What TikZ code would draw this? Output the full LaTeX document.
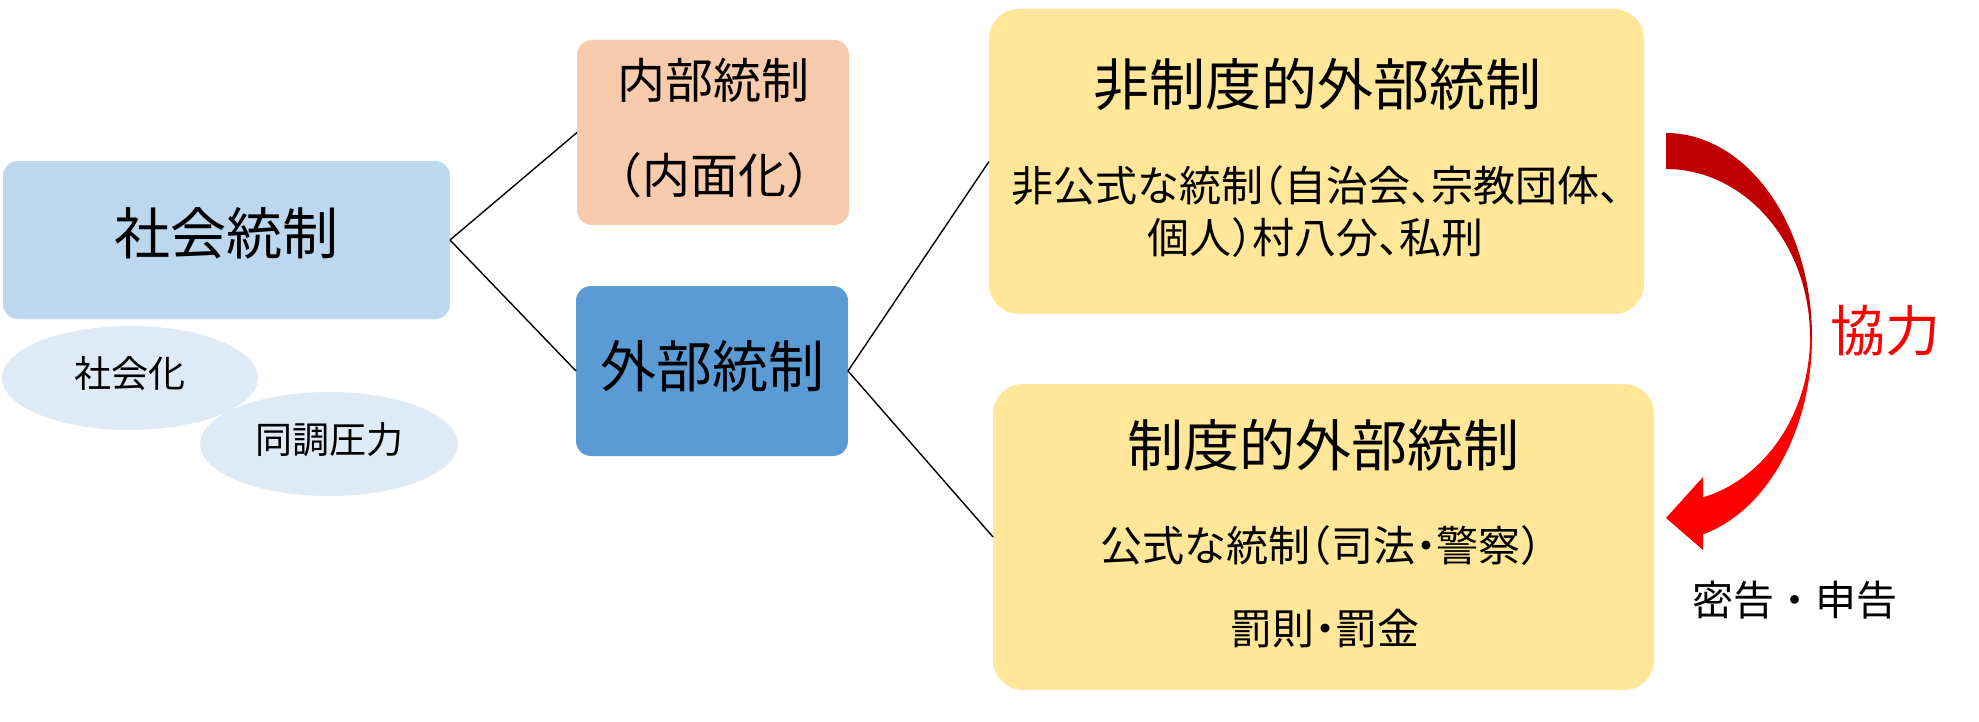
\documentclass[tikz,border=0pt]{standalone}
\usepackage{fontspec}
\usetikzlibrary{shapes.geometric}
\newfontfamily\jp[RawFeature=+halt]{Noto Sans CJK JP}
\newfontfamily\jpfull{Noto Sans CJK JP}
\definecolor{socblue}{HTML}{BDD7EE}
\definecolor{ellblue}{HTML}{DEEBF7}
\definecolor{naipeach}{HTML}{F8CBAD}
\definecolor{gaiblue}{HTML}{5B9BD5}
\definecolor{boxyellow}{HTML}{FFE699}
\definecolor{arrdark}{HTML}{C00000}
\definecolor{arrred}{HTML}{FF0000}
\begin{document}
\begin{tikzpicture}[x=0.5pt,y=-0.5pt,
  box/.style={rectangle,draw=none,inner sep=0pt,outer sep=0pt,rounded corners=7.5pt},
  bigbox/.style={rectangle,draw=none,inner sep=0pt,outer sep=0pt,rounded corners=15pt,fill=boxyellow},
  ell/.style={ellipse,draw=none,fill=ellblue,inner sep=0pt,outer sep=0pt},
  txt/.style={inner sep=0pt,outer sep=0pt,anchor=center,font=\jp},
  conn/.style={draw=black,line width=0.7pt}]
\useasboundingbox (0,0) rectangle (1979,722);
\fill[white] (0,0) rectangle (1979,722);

% boxes
\node[box,fill=socblue,minimum width=223.5pt,minimum height=79pt] (soc) at (226.5,240) {};
\node[box,fill=naipeach,minimum width=136pt,minimum height=92.5pt] (nai) at (713,132.5) {};
\node[box,fill=gaiblue,minimum width=136pt,minimum height=85pt] (gai) at (712,371) {};
\node[bigbox,minimum width=327.5pt,minimum height=152.5pt] (hsei) at (1316.5,161.5) {};
\node[bigbox,minimum width=330.5pt,minimum height=153pt] (sei) at (1323.5,537) {};

% ellipses
\node[ell,minimum width=128pt,minimum height=52pt] (e1) at (130,378) {};
\node[ell,minimum width=129pt,minimum height=52pt] (e2) at (329,444) {};

% connectors
\draw[conn] (soc.east) -- (nai.west);
\draw[conn] (soc.east) -- (gai.west);
\draw[conn] (gai.east) -- (hsei.west);
\draw[conn] (gai.east) -- (sei.west);

% texts
\node[txt,font=\jp\fontsize{28pt}{28pt}\selectfont] (tsoc) at (226,233) {社会統制};
\node[txt,font=\jp\fontsize{24pt}{24pt}\selectfont] (tnai1) at (713,80) {内部統制};
\node[txt,font=\jp\fontsize{24pt}{24pt}\selectfont] (tnai2) at (714,175) {（内面化）};
\node[txt,font=\jp\fontsize{28pt}{28pt}\selectfont] (tgai) at (712,366) {外部統制};
\node[txt,font=\jp\fontsize{18.5pt}{18.5pt}\selectfont] (te1) at (130,373) {社会化};
\node[txt,font=\jp\fontsize{18.5pt}{18.5pt}\selectfont] (te2) at (329,440) {同調圧力};
\node[txt,font=\jp\fontsize{28pt}{28pt}\selectfont] (thsei) at (1317,84) {非制度的外部統制};
\node[txt,font=\jp\fontsize{21pt}{21pt}\selectfont] (thsei1) at (1316,185.5) {非公式な統制（自治会、宗教団体、};
\node[txt,font=\jp\fontsize{21pt}{21pt}\selectfont] (thsei2) at (1315,238) {個人）村八分、私刑};
\node[txt,font=\jp\fontsize{28pt}{28pt}\selectfont] (tsei) at (1323,445) {制度的外部統制};
\node[txt,font=\jp\fontsize{21pt}{21pt}\selectfont] (tsei1) at (1321,546) {公式な統制（司法・警察）};
\node[txt,font=\jp\fontsize{21pt}{21pt}\selectfont] (tsei2) at (1325,629) {罰則・罰金};

% curved arrow
\fill[arrdark] plot[domain=-90:0,samples=60] ({1666+146*cos(\x)},{337+204*sin(\x)})
  -- plot[domain=0:-90,samples=60] ({1666+144*cos(\x)},{337+168*sin(\x)}) -- cycle;
\fill[arrred] plot[domain=0:75.3,samples=60] ({1666+146*cos(\x)},{337+204*sin(\x)})
  -- (1703,550) -- (1666,518) -- (1703,477)
  -- plot[domain=75.1:0,samples=60] ({1666+144*cos(\x)},{337+166*sin(\x)}) -- cycle;

\node[txt,font=\jp\fontsize{27.5pt}{27.5pt}\selectfont,text=arrred] (tkyo) at (1885,331) {協力};
\node[txt,font=\jpfull\fontsize{20.5pt}{20.5pt}\selectfont] (tmik) at (1795,600) {密告・申告};
\end{tikzpicture}
\end{document}
